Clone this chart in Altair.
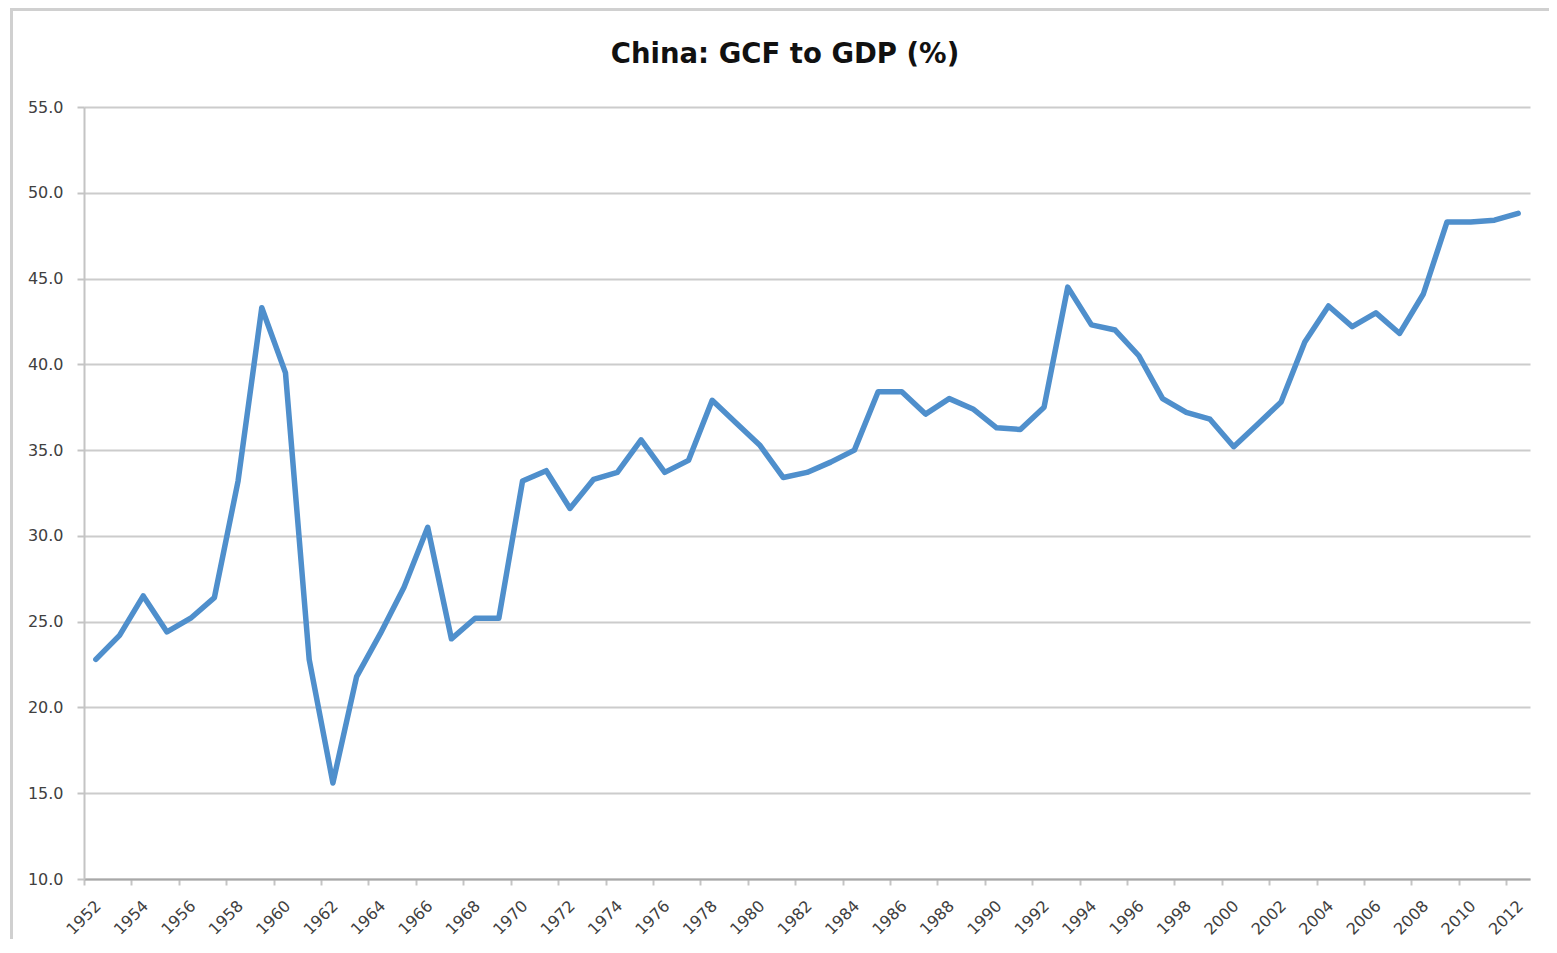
import altair as alt
import pandas as pd

years = list(range(1952, 2013))
gcf_to_gdp = [
    22.8, 24.2, 26.5, 24.4, 25.2, 26.4, 33.2, 43.3, 39.5, 22.8,
    15.6, 21.8, 24.3, 27.0, 30.5, 24.0, 25.2, 25.2, 33.2, 33.8,
    31.6, 33.3, 33.7, 35.6, 33.7, 34.4, 37.9, 36.6, 35.3, 33.4,
    33.7, 34.3, 35.0, 38.4, 38.4, 37.1, 38.0, 37.4, 36.3, 36.2,
    37.5, 44.5, 42.3, 42.0, 40.5, 38.0, 37.2, 36.8, 35.2, 36.5,
    37.8, 41.3, 43.4, 42.2, 43.0, 41.8, 44.1, 48.3, 48.3, 48.4,
    48.8,
]
tick_years = years[::2]
y_ticks = [10, 15, 20, 25, 30, 35, 40, 45, 50, 55]
title_text = "China: GCF to GDP (%)"

df = pd.DataFrame({"year": years, "value": gcf_to_gdp})

W, H = 1446, 772
band = W / len(years)

line = alt.Chart(df).mark_line(
    color="#4f8fcc", strokeWidth=5.5, strokeJoin="round", strokeCap="round"
).encode(
    x=alt.X(
        "year:O",
        bandPosition=0.5,
        scale=alt.Scale(type="band", paddingInner=0, paddingOuter=0),
        axis=alt.Axis(
            title=None,
            values=tick_years,
            labelAngle=-45,
            labelAlign="right",
            labelBaseline="middle",
            labelFont="DejaVu Sans",
            labelFontSize=16,
            labelColor="#404040",
            labelPadding=18,
            labelOffset=band / 2 + 2,
            tickOffset=-band / 2,
            tickExtra=False,
            tickSize=6,
            tickColor="#c4c4c4",
            tickWidth=2,
            domainColor="#a8a8a8",
            domainWidth=2,
            grid=False,
        ),
    ),
    y=alt.Y(
        "value:Q",
        scale=alt.Scale(domain=[10, 55], nice=False, zero=False),
        axis=alt.Axis(
            title=None,
            values=y_ticks,
            format=".1f",
            labelFont="DejaVu Sans",
            labelFontSize=16,
            labelColor="#404040",
            labelPadding=14,
            tickSize=7,
            tickColor="#c4c4c4",
            tickWidth=2,
            domainColor="#c4c4c4",
            domainWidth=2,
            gridColor="#cccccc",
            gridWidth=2,
        ),
    ),
)

frame_df = pd.DataFrame({"a": [0]})
left_border = alt.Chart(frame_df).mark_rule(color="#d0d0d0", strokeWidth=3).encode(
    x=alt.value(-72.5), y=alt.value(-97.5), y2=alt.value(H + 60)
)
top_border = alt.Chart(frame_df).mark_rule(color="#d0d0d0", strokeWidth=3).encode(
    x=alt.value(-74), x2=alt.value(W + 19), y=alt.value(-97.5)
)
title = alt.Chart(frame_df).mark_text(
    font="DejaVu Sans",
    fontSize=27.5,
    fontWeight="bold",
    color="#111111",
    align="center",
    baseline="alphabetic",
).encode(
    x=alt.value(W / 2 - 22),
    y=alt.value(-44),
    text=alt.value(title_text),
)

chart = alt.layer(left_border, top_border, title, line).properties(
    width=W,
    height=H,
    view=alt.ViewBackground(stroke="transparent", strokeWidth=0),
    autosize=alt.AutoSizeParams(type="none"),
    padding={"left": 76, "top": 99, "right": 19, "bottom": 60},
).configure_view(stroke="transparent", strokeWidth=0).configure(background="white")

chart.save("out.html", embed_options={"renderer": "svg", "actions": False})
